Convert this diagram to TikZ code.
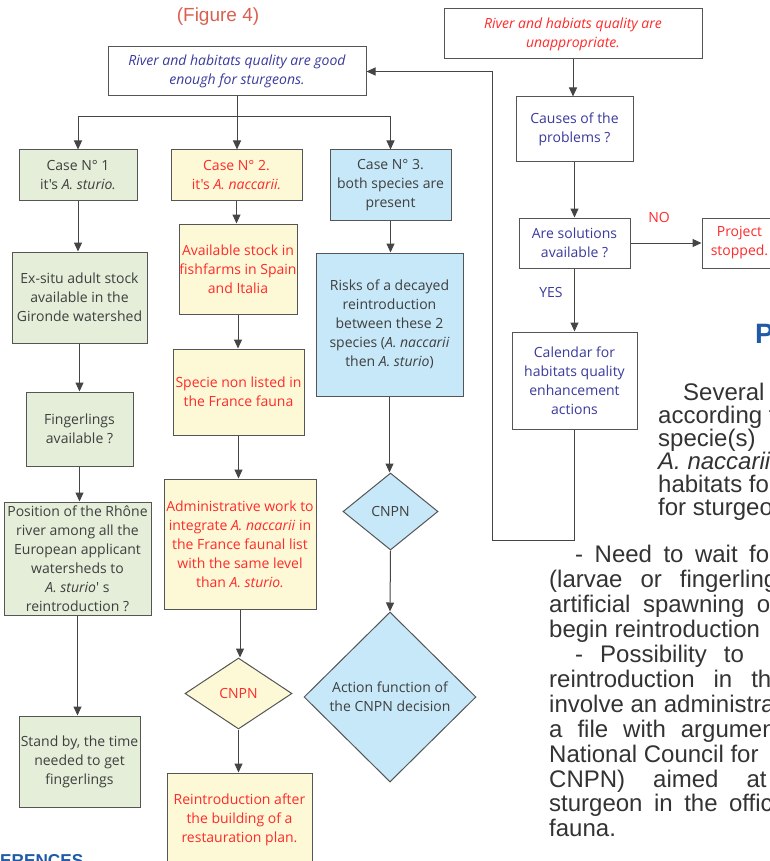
\documentclass[tikz,border=0pt]{standalone}
\usepackage{fontspec}
\setmainfont{Liberation Sans}
\newfontfamily\cs{Open Sans}
\usetikzlibrary{arrows.meta,shapes.geometric}
\definecolor{gfill}{HTML}{E4EED9}
\definecolor{yfill}{HTML}{FDF9D7}
\definecolor{bfill}{HTML}{C7E8F8}
\definecolor{tred}{HTML}{FF2A2A}
\definecolor{tblue}{HTML}{3A3A9E}
\definecolor{tgray}{HTML}{3F3F3F}
\definecolor{lgray}{HTML}{555555}
\definecolor{agray}{HTML}{454545}
\definecolor{figc}{HTML}{D9604F}
\definecolor{headb}{HTML}{1F5AA6}
\definecolor{ptext}{HTML}{333333}
\begin{document}
\begin{tikzpicture}[x=1pt,y=-1pt,
  box/.style={draw=lgray, line width=1pt, rectangle, inner sep=0pt, align=center,
    font={\cs\fontsize{14}{19}\selectfont}},
  dia/.style={box, shape=diamond},
  gbox/.style={box, fill=gfill, text=tgray},
  ybox/.style={box, fill=yfill, text=tred},
  bbox/.style={box, fill=bfill, text=tgray},
  wbox/.style={box, fill=white, text=tblue},
  arr/.style={draw=agray, line width=1pt, -{Triangle[length=9pt,width=8pt]}},
  lin/.style={draw=agray, line width=1pt},
  lbl/.style={inner sep=0pt, font={\cs\fontsize{14}{16}\selectfont}},
  ptx/.style={anchor=base west, inner sep=0pt, font={\fontsize{24}{25}\selectfont}, text=ptext},
]
\useasboundingbox (0,0) rectangle (770,861);
\clip (0,0) rectangle (770,861);

% title
\node[inner sep=0pt, text=figc, font={\fontsize{19}{22}\selectfont}] (fig) at (218,17) {(Figure 4)};

% top boxes
\node[wbox, minimum width=258pt, minimum height=49pt] (top) at (237,71.5)
  {\itshape River and habitats quality are good\\\itshape enough for sturgeons.};
\node[box, fill=white, text=tred, minimum width=258pt, minimum height=50pt] (topR) at (573,34)
  {\itshape River and habiats quality are\\\itshape unappropriate.};

% column 1
\node[gbox, minimum width=118pt, minimum height=50pt] (case1) at (78,175)
  {Case N° 1\\it's \textit{A. sturio.}};
\node[gbox, minimum width=135pt, minimum height=91pt] (exsitu) at (79.5,297.5)
  {Ex-situ adult stock\\available in the\\Gironde watershed};
\node[gbox, minimum width=107pt, minimum height=74pt] (finger) at (79.5,429)
  {Fingerlings\\available ?};
\node[gbox, minimum width=147pt, minimum height=113pt] (posit) at (77.5,558.5)
  {Position of the Rhône\\river among all the\\European applicant\\watersheds to\\\textit{A. sturio}' s\\reintroduction ?};
\node[gbox, minimum width=121pt, minimum height=91pt] (standby) at (79.5,761.5)
  {Stand by, the time\\needed to get\\fingerlings};

% column 2
\node[ybox, minimum width=131pt, minimum height=50pt] (case2) at (236.5,175)
  {Case N° 2.\\it's \textit{A. naccarii.}};
\node[ybox, minimum width=118pt, minimum height=90pt] (stock) at (238,269)
  {Available stock in\\fishfarms in Spain\\and Italia};
\node[ybox, minimum width=131pt, minimum height=86pt] (nonlisted) at (238.5,392)
  {Specie non listed in\\the France fauna};
\node[ybox, minimum width=152pt, minimum height=130pt] (admin) at (240,544)
  {Administrative work to\\integrate \textit{A. naccarii} in\\the France faunal list\\with the same level\\than \textit{A. sturio.}};
\node[dia, fill=yfill, text=tred, minimum width=107pt, minimum height=71pt] (cnpnY) at (238.5,693.5) {CNPN};
\node[ybox, minimum width=145pt, minimum height=94pt] (reintro) at (239.5,820)
  {Reintroduction after\\the building of a\\restauration plan.};

% column 3
\node[bbox, minimum width=121pt, minimum height=70pt] (case3) at (390.5,185)
  {Case N° 3.\\both species are\\present};
\node[bbox, minimum width=147pt, minimum height=143pt] (risks) at (389.5,324.5)
  {Risks of a decayed\\reintroduction\\between these 2\\species (\textit{A. naccarii}\\then \textit{A. sturio})};
\node[dia, fill=bfill, text=tgray, minimum width=95pt, minimum height=77pt] (cnpnB) at (390.5,511.5) {CNPN};
\node[dia, fill=bfill, text=tgray, minimum width=172pt, minimum height=170pt] (action) at (390,697)
  {Action function of\\the CNPN decision};

% right column
\node[wbox, minimum width=117pt, minimum height=65pt] (causes) at (574.5,129.5)
  {Causes of the\\problems ?};
\node[wbox, minimum width=111pt, minimum height=50pt] (solutions) at (574.5,243)
  {Are solutions\\available ?};
\node[box, fill=white, text=tred, minimum width=75pt, minimum height=50pt] (stopped) at (739.5,243)
  {Project\\stopped.};
\node[wbox, minimum width=125pt, minimum height=97pt] (calendar) at (574.5,380.5)
  {Calendar for\\habitats quality\\enhancement\\actions};
\node[lbl, text=tred] (no) at (659,217) {NO};
\node[lbl, text=tblue] (yes) at (551,292) {YES};

% connectors
\coordinate (j) at (237,117);
\draw[lin] (top.south) -- (j);
\draw[arr] (j) -- (j |- case2.north);
\draw[arr] (j) -| (case1.north);
\draw[arr] (j) -| (case3.north);

\draw[arr] (case1.south) -- (case1.south |- exsitu.north);
\draw[arr] (exsitu.south) -- (exsitu.south |- finger.north);
\draw[arr] (finger.south) -- (finger.south |- posit.north);
\draw[arr] (posit.south) -- (posit.south |- standby.north);

\draw[arr] (case2.south) -- (case2.south |- stock.north);
\draw[arr] (stock.south) -- (stock.south |- nonlisted.north);
\draw[arr] (nonlisted.south) -- (nonlisted.south |- admin.north);
\draw[arr] (admin.south) -- (admin.south |- cnpnY.north);
\draw[arr] (cnpnY.south) -- (cnpnY.south |- reintro.north);

\draw[arr] (case3.south) -- (case3.south |- risks.north);
\draw[arr] (risks.south) -- (risks.south |- cnpnB.north);
\draw[arr] (cnpnB.south) -- (action.north);

\draw[arr] (topR.south) -- (topR.south |- causes.north);
\draw[arr] (causes.south) -- (causes.south |- solutions.north);
\draw[arr] (solutions.south) -- (solutions.south |- calendar.north);
\draw[arr] (solutions.east) -- (stopped.west);

\coordinate (k2) at (492,540);
\draw[arr] (calendar.south) -- (calendar.south |- k2) -- (k2) -- (k2 |- top.east) -- (top.east);

% heading and text
\node[anchor=base west, inner sep=0pt, text=headb, font={\bfseries\fontsize{28}{30}\selectfont}] (head) at (755,343) {PERSPECTIVES};
\node[anchor=base west, inner sep=0pt, text=headb, font={\bfseries\fontsize{17.2}{20}\selectfont}] (refs) at (-34.4,866) {REFERENCES};

\node[ptx] (p1a) at (683,400) {Several options are};
\node[ptx] (p1b) at (658,423) {according to the};
\node[ptx] (p1c) at (658,446) {specie(s)\hspace{25pt}present:};
\node[ptx] (p1d) at (658,469) {\textit{A. naccarii}, and if};
\node[ptx] (p1e) at (658,492) {habitats found are};
\node[ptx] (p1f) at (658,515) {for sturgeons:};

\node[ptx] (p2a) at (575,562) {\spaceskip=11.5pt\relax - Need to wait for juveniles};
\node[ptx] (p2b) at (549,587) {\spaceskip=18pt\relax (larvae or fingerlings) from};
\node[ptx] (p2c) at (549,612) {\spaceskip=12.5pt\relax artificial spawning of};
\node[ptx] (p2d) at (549,637) {begin reintroduction\hspace{16pt}in};
\node[ptx] (p2e) at (575,662) {\spaceskip=17pt\relax - Possibility to\hspace{30pt}begin};
\node[ptx] (p2f) at (549,687) {\spaceskip=19pt\relax reintroduction in the};
\node[ptx] (p2g) at (549,712) {involve an administrative};
\node[ptx] (p2h) at (549,737) {\spaceskip=15pt\relax a file with arguments};
\node[ptx] (p2i) at (549,762) {National Council for\hspace{14pt}Nature};
\node[ptx] (p2j) at (549,787) {\spaceskip=28pt\relax CNPN) aimed at integrating};
\node[ptx] (p2k) at (549,811) {\spaceskip=11.5pt\relax sturgeon in the official};
\node[ptx] (p2l) at (549,836) {fauna.};
\end{tikzpicture}
\end{document}
